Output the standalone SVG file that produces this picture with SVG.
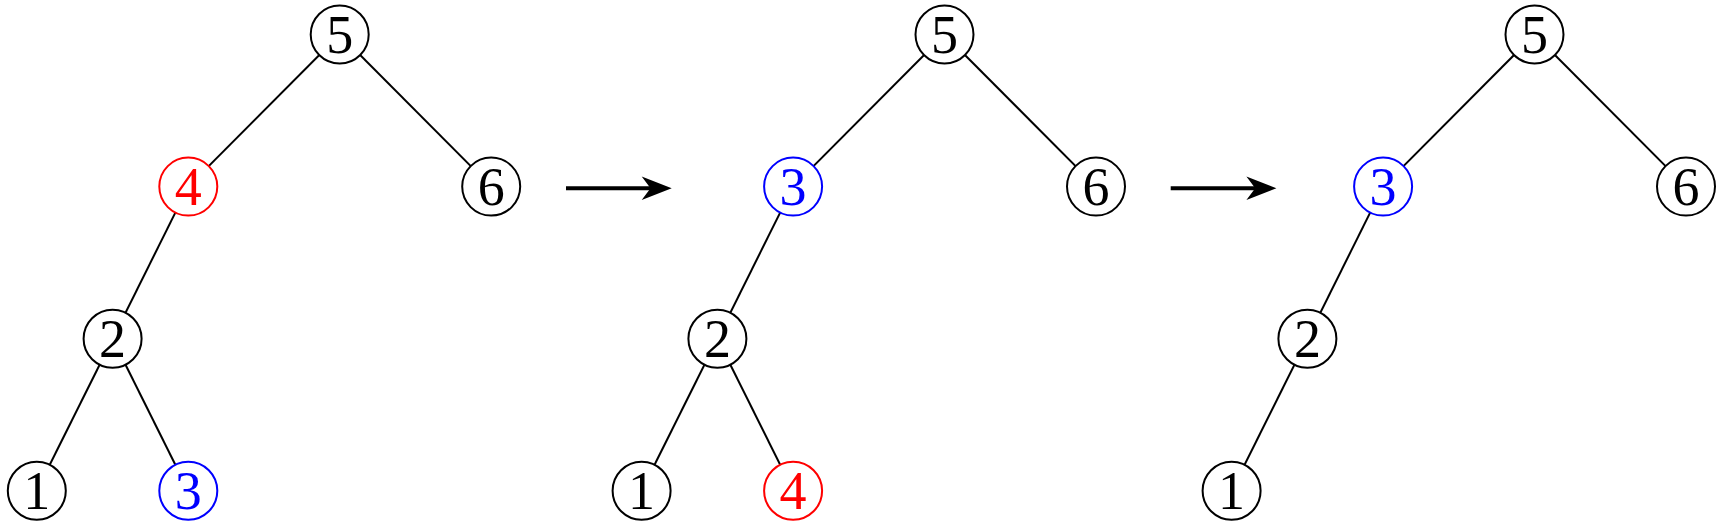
<svg xmlns="http://www.w3.org/2000/svg" width="1723" height="529" viewBox="0 0 1723 529">
<style>
.n circle{fill:#fff;stroke:#000;stroke-width:2}
.n text{font-family:'Liberation Serif','Times New Roman',serif;font-size:54px;text-anchor:middle;fill:#000}
.n.red circle{stroke:#ff0000}.n.red text{fill:#ff0000}
.n.blue circle{stroke:#0000ff}.n.blue text{fill:#0000ff}
.e line{stroke:#000;stroke-width:2}
.arr line{stroke:#000;stroke-width:4}
.arr path{fill:#000}
</style>
<rect width="1723" height="529" fill="#fff"/>
<g id="connectors" class="e">
<line x1="339.7" y1="34.5" x2="188.3" y2="186.6"/>
<line x1="339.7" y1="34.5" x2="491.2" y2="186.6"/>
<line x1="188.3" y1="186.6" x2="112.6" y2="338.7"/>
<line x1="112.6" y1="338.7" x2="36.8" y2="490.8"/>
<line x1="112.6" y1="338.7" x2="188.3" y2="490.8"/>
<line x1="944.5" y1="34.5" x2="793.1" y2="186.6"/>
<line x1="944.5" y1="34.5" x2="1096" y2="186.6"/>
<line x1="793.1" y1="186.6" x2="717.4" y2="338.7"/>
<line x1="717.4" y1="338.7" x2="641.6" y2="490.8"/>
<line x1="717.4" y1="338.7" x2="793.1" y2="490.8"/>
<line x1="1534.5" y1="34.5" x2="1383.1" y2="186.6"/>
<line x1="1534.5" y1="34.5" x2="1686" y2="186.6"/>
<line x1="1383.1" y1="186.6" x2="1307.4" y2="338.7"/>
<line x1="1307.4" y1="338.7" x2="1231.6" y2="490.8"/>
</g>
<g id="arrow1" class="arr">
<line x1="566" y1="188.3" x2="652" y2="188.3"/>
<path d="M671.7,188.3 L641.7,176.5 L650.5,188.3 L641.7,200.1 Z"/>
</g>
<g id="arrow2" class="arr">
<line x1="1170.7" y1="188.3" x2="1257" y2="188.3"/>
<path d="M1276.4,188.3 L1246.4,176.5 L1255.2,188.3 L1246.4,200.1 Z"/>
</g>
<g id="t1-5" class="n"><circle cx="339.7" cy="34.5" r="29"/><text x="339.7" y="53">5</text></g>
<g id="t1-4" class="n red"><circle cx="188.3" cy="186.6" r="29"/><text x="188.3" y="205.1">4</text></g>
<g id="t1-6" class="n"><circle cx="491.2" cy="186.6" r="29"/><text x="491.2" y="205.1">6</text></g>
<g id="t1-2" class="n"><circle cx="112.6" cy="338.7" r="29"/><text x="112.6" y="357.2">2</text></g>
<g id="t1-1" class="n"><circle cx="36.8" cy="490.8" r="29"/><text x="36.8" y="509.3">1</text></g>
<g id="t1-3" class="n blue"><circle cx="188.3" cy="490.8" r="29"/><text x="188.3" y="509.3">3</text></g>
<g id="t2-5" class="n"><circle cx="944.5" cy="34.5" r="29"/><text x="944.5" y="53">5</text></g>
<g id="t2-3" class="n blue"><circle cx="793.1" cy="186.6" r="29"/><text x="793.1" y="205.1">3</text></g>
<g id="t2-6" class="n"><circle cx="1096" cy="186.6" r="29"/><text x="1096" y="205.1">6</text></g>
<g id="t2-2" class="n"><circle cx="717.4" cy="338.7" r="29"/><text x="717.4" y="357.2">2</text></g>
<g id="t2-1" class="n"><circle cx="641.6" cy="490.8" r="29"/><text x="641.6" y="509.3">1</text></g>
<g id="t2-4" class="n red"><circle cx="793.1" cy="490.8" r="29"/><text x="793.1" y="509.3">4</text></g>
<g id="t3-5" class="n"><circle cx="1534.5" cy="34.5" r="29"/><text x="1534.5" y="53">5</text></g>
<g id="t3-3" class="n blue"><circle cx="1383.1" cy="186.6" r="29"/><text x="1383.1" y="205.1">3</text></g>
<g id="t3-6" class="n"><circle cx="1686" cy="186.6" r="29"/><text x="1686" y="205.1">6</text></g>
<g id="t3-2" class="n"><circle cx="1307.4" cy="338.7" r="29"/><text x="1307.4" y="357.2">2</text></g>
<g id="t3-1" class="n"><circle cx="1231.6" cy="490.8" r="29"/><text x="1231.6" y="509.3">1</text></g>
</svg>
